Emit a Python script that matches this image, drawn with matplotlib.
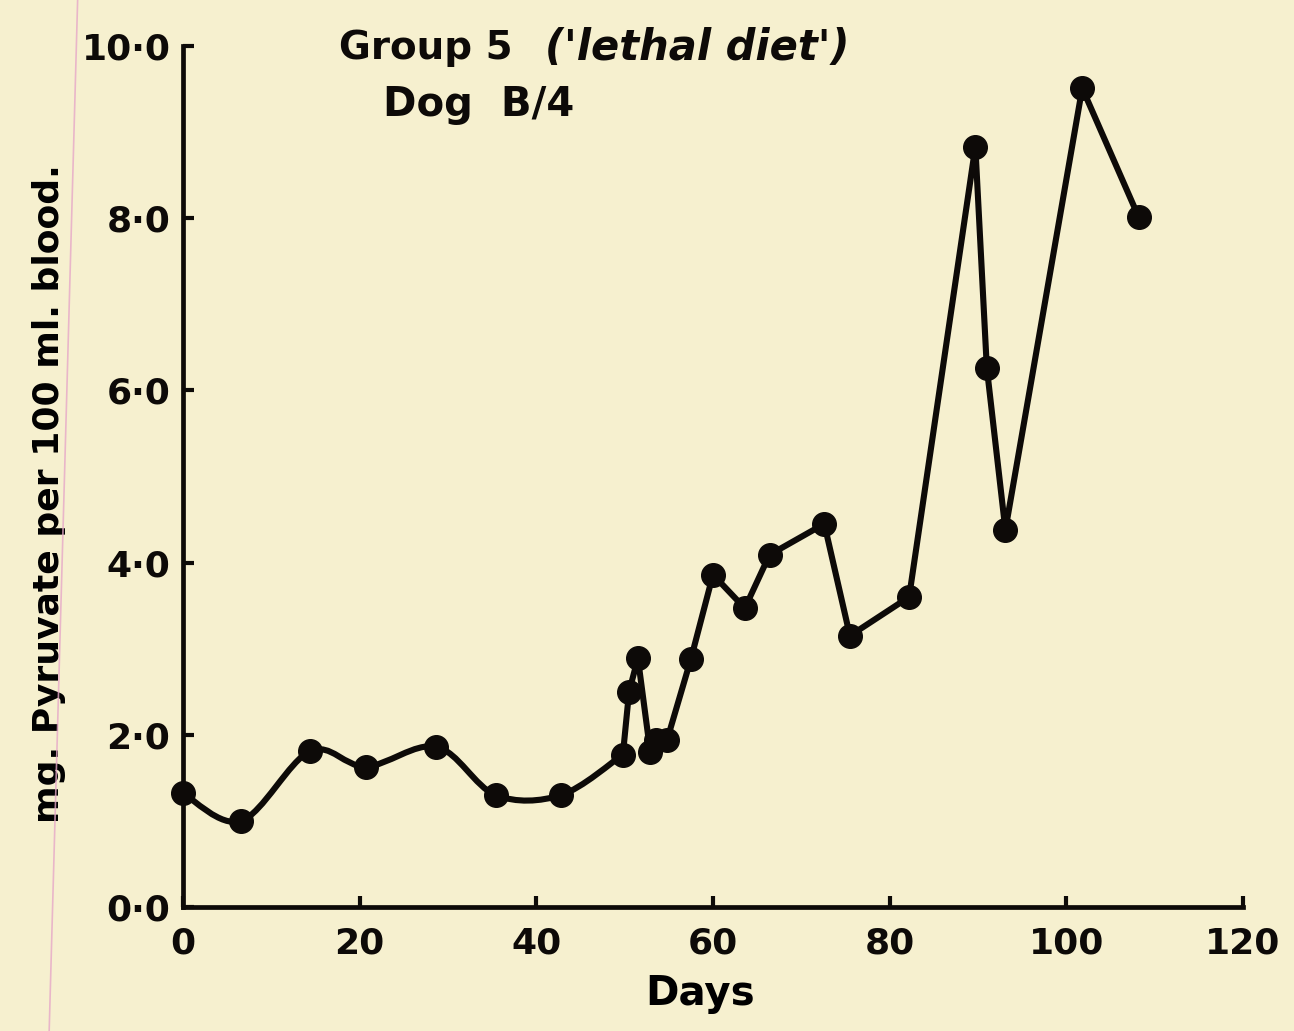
"""Blood pyruvate over time for dog B/4 (group 5, 'lethal diet')."""
import matplotlib.pyplot as plt
import numpy as np
from matplotlib.lines import Line2D
from matplotlib.patches import PathPatch
from matplotlib.path import Path

PAPER = "#f6f0cf"
INK = "#0d0a08"

days = [0, 6.6, 14.4, 20.7, 28.7, 35.4, 42.8, 49.8, 50.5, 51.5, 52.9, 53.6,
        54.8, 57.5, 60.0, 63.6, 66.4, 72.6, 75.5, 82.2, 89.7, 91.0, 93.1,
        101.8, 108.2]
pyruvate = [1.32, 1.00, 1.81, 1.63, 1.86, 1.30, 1.30, 1.77, 2.50, 2.89, 1.80,
            1.94, 1.94, 2.88, 3.86, 3.47, 4.09, 4.45, 3.15, 3.60, 8.83, 6.26,
            4.38, 9.51, 8.01]
x_ticks = [0, 20, 40, 60, 80, 100, 120]
y_ticks = [0, 2, 4, 6, 8, 10]
y_tick_labels = ["0·0", "2·0", "4·0", "6·0", "8·0", "10·0"]

# the early readings were joined freehand with a smooth curve
N_SMOOTH = 8

plt.rcParams["font.family"] = ["DejaVu Sans"]


def smooth_path(xs, ys):
    """Catmull-Rom style cubic Bezier through the points."""
    pts = np.column_stack([xs, ys])
    verts = [pts[0]]
    codes = [Path.MOVETO]
    n = len(pts)
    for i in range(n - 1):
        p0 = pts[max(i - 1, 0)]
        p1 = pts[i]
        p2 = pts[i + 1]
        p3 = pts[min(i + 2, n - 1)]
        c1 = p1 + (p2 - p0) / 6.0
        c2 = p2 - (p3 - p1) / 6.0
        verts += [c1, c2, p2]
        codes += [Path.CURVE4] * 3
    return Path(verts, codes)


fig = plt.figure(figsize=(12.94, 10.31), dpi=100, facecolor=PAPER)
ax = fig.add_axes([0.1414, 0.1203, 0.8192, 0.8351])
ax.set_facecolor(PAPER)

ax.add_patch(PathPatch(smooth_path(days[:N_SMOOTH], pyruvate[:N_SMOOTH]),
                       facecolor="none", edgecolor=INK, lw=4.4,
                       capstyle="round", joinstyle="round"))
ax.plot(days[N_SMOOTH - 1:], pyruvate[N_SMOOTH - 1:], color=INK, lw=4.4,
        solid_joinstyle="round", solid_capstyle="round")
ax.plot(days, pyruvate, "o", color=INK, ms=17, zorder=3, clip_on=False)

ax.set_xlim(0, 120)
ax.set_ylim(0, 10)
for side in ("top", "right"):
    ax.spines[side].set_visible(False)
for side in ("left", "bottom"):
    ax.spines[side].set_linewidth(3.4)
    ax.spines[side].set_color(INK)

ax.set_xticks(x_ticks)
ax.set_xticklabels([str(t) for t in x_ticks])
ax.set_yticks(y_ticks)
ax.set_yticklabels(y_tick_labels)
ax.tick_params(direction="in", length=8, width=3, colors=INK,
               labelsize=26, pad=9)
ax.tick_params(axis="x", pad=14)
for lab in ax.get_xticklabels() + ax.get_yticklabels():
    lab.set_fontweight("bold")

ax.set_xlabel("Days", fontsize=29, fontweight="bold")
ax.xaxis.set_label_coords(0.488, -0.078)
ax.set_ylabel("mg. Pyruvate per 100 ml. blood.", fontsize=26,
              fontweight="bold")
ax.yaxis.set_label_coords(-0.110, 0.48)

fig.text(0.262, 0.953, "Group 5", fontsize=28, fontweight="bold",
         ha="left", va="center", color=INK)
fig.text(0.421, 0.953, "('lethal diet')", fontsize=30, fontweight="bold",
         style="italic", ha="left", va="center", color=INK)
fig.text(0.296, 0.898, "Dog  B/4", fontsize=29, fontweight="bold",
         ha="left", va="center", color=INK)

# faint ruled margin line of the notebook page
fig.add_artist(Line2D([0.060, 0.038], [1.0, 0.0], transform=fig.transFigure,
                      color="#e6a8c8", lw=1.2, alpha=0.8))

fig.savefig("out.png", dpi=100, facecolor=PAPER)
